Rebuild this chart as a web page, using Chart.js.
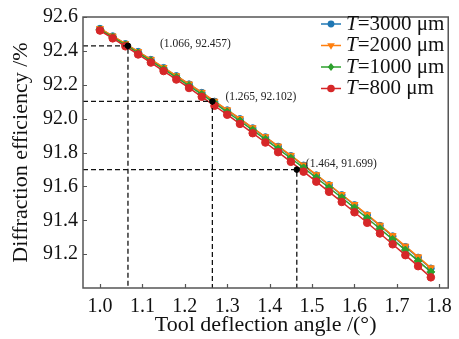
<!DOCTYPE html>
<html><head><meta charset="utf-8">
<script src="https://cdn.jsdelivr.net/npm/chart.js@4/dist/chart.umd.min.js"></script>
<style>html,body{margin:0;padding:0;background:#fff}canvas{display:block}</style>
</head><body>
<canvas id="c" width="459" height="339"></canvas>
<script>
// ---- data ----
const angles = [1.00,1.03,1.06,1.09,1.12,1.15,1.18,1.21,1.24,1.27,1.30,1.33,1.36,1.39,1.42,1.45,1.48,1.51,1.54,1.57,1.60,1.63,1.66,1.69,1.72,1.75,1.78];
const effT3000 = [92.531,92.487,92.441,92.395,92.348,92.300,92.252,92.203,92.153,92.101,92.050,91.998,91.944,91.891,91.835,91.780,91.724,91.666,91.608,91.549,91.490,91.430,91.368,91.306,91.243,91.180,91.116];
const effT2000 = [92.532,92.488,92.442,92.396,92.350,92.302,92.253,92.205,92.155,92.103,92.052,92.000,91.946,91.893,91.838,91.783,91.726,91.669,91.611,91.552,91.493,91.433,91.371,91.309,91.247,91.184,91.119];
const effT1000 = [92.526,92.481,92.435,92.388,92.341,92.292,92.243,92.194,92.143,92.091,92.039,91.986,91.932,91.878,91.822,91.766,91.709,91.651,91.592,91.533,91.473,91.412,91.350,91.287,91.224,91.160,91.095];
const effT800  = [92.520,92.474,92.427,92.379,92.331,92.281,92.231,92.181,92.129,92.076,92.023,91.969,91.914,91.859,91.802,91.745,91.687,91.628,91.568,91.508,91.447,91.385,91.322,91.258,91.194,91.129,91.063];
const thicknesses = ['3000','2000','1000','800'];
const xTicks = [1.0,1.1,1.2,1.3,1.4,1.5,1.6,1.7,1.8];
const yTicks = [91.2,91.4,91.6,91.8,92.0,92.2,92.4,92.6];
const markX = [1.066,1.265,1.464];
const markY = [92.43,92.102,91.699];
const markText = ['(1.066, 92.457)','(1.265, 92.102)','(1.464, 91.699)'];

// ---- styles ----
const X_MIN = 0.96, X_MAX = 1.821, Y_MIN = 91.0, Y_MAX = 92.6;
const colors = ['#1f77b4','#ff7f0e','#2ca02c','#d62728'];
const pStyles = ['circle','triangle','rectRot','circle'];
const pRot = [0,180,0,0];
const pRad = [3.4,4,4,3.8];
const serif = '"Liberation Serif","Times New Roman",serif';
const labelOffsets = [[32,-2],[13,-4],[9,-6]];

const seriesVals = [effT3000, effT2000, effT1000, effT800];
const datasets = seriesVals.map((vals,i)=>({
  type:'line',
  label:'T=' + thicknesses[i] + ' μm',
  data: angles.map((a,j)=>({x:a,y:vals[j]})),
  borderColor: colors[i], backgroundColor: colors[i],
  pointBackgroundColor: colors[i], pointBorderColor: colors[i],
  borderWidth: 1.5, pointRadius: pRad[i], pointBorderWidth: 1,
  pointStyle: pStyles[i], pointRotation: pRot[i],
  order: 4 - i
}));
markX.forEach((mx,k)=>{
  datasets.push({
    type:'line', label:'guide'+k,
    data:[{x:X_MIN,y:markY[k]},{x:mx,y:markY[k]},{x:mx,y:Y_MIN}],
    borderColor:'#111', borderWidth:1.3, borderDash:[5,3],
    pointRadius:0, order:0
  });
});
datasets.push({
  type:'line', label:'marks', showLine:false,
  data: markX.map((mx,k)=>({x:mx,y:markY[k]})),
  pointRadius:2.8, pointBackgroundColor:'#000', pointBorderColor:'#000', order:-1
});

function drawShape(ctx, k, x, y){
  const r = pRad[k];
  ctx.fillStyle = colors[k];
  ctx.beginPath();
  if (pStyles[k]==='circle'){ ctx.arc(x,y,r,0,Math.PI*2); }
  else if (pStyles[k]==='triangle'){
    ctx.moveTo(x - r*0.95, y - r*0.55); ctx.lineTo(x + r*0.95, y - r*0.55); ctx.lineTo(x, y + r*1.05);
  } else { ctx.moveTo(x,y-r); ctx.lineTo(x+r*0.8,y); ctx.lineTo(x,y+r); ctx.lineTo(x-r*0.8,y); }
  ctx.closePath(); ctx.fill();
}

const decor = {
  id:'decor',
  afterDraw(chart){
    const {ctx, chartArea:a, scales:{x,y}} = chart;
    ctx.save();
    // frame
    ctx.strokeStyle = '#555'; ctx.lineWidth = 1.5;
    ctx.strokeRect(a.left, a.top, a.right - a.left, a.bottom - a.top);
    // inward ticks
    ctx.beginPath();
    x.ticks.forEach(t=>{ const px = Math.round(x.getPixelForValue(t.value))+0.5; ctx.moveTo(px,a.bottom); ctx.lineTo(px,a.bottom-4); });
    y.ticks.forEach(t=>{ const py = Math.round(y.getPixelForValue(t.value))+0.5; ctx.moveTo(a.left,py); ctx.lineTo(a.left+4,py); });
    ctx.lineWidth = 1.2; ctx.stroke();
    // annotation texts
    ctx.fillStyle = '#222'; ctx.font = '11.5px ' + serif; ctx.textBaseline = 'middle'; ctx.textAlign = 'left';
    markText.forEach((t,k)=>{
      ctx.fillText(t, x.getPixelForValue(markX[k]) + labelOffsets[k][0], y.getPixelForValue(markY[k]) + labelOffsets[k][1]);
    });
    // legend
    const lx0 = 321, lx1 = 341, tx = 346, ty0 = 24, dy = 21.5;
    thicknesses.forEach((th,k)=>{
      const yy = ty0 + k*dy;
      ctx.strokeStyle = colors[k]; ctx.lineWidth = 1.5;
      ctx.beginPath(); ctx.moveTo(lx0,yy); ctx.lineTo(lx1,yy); ctx.stroke();
      drawShape(ctx,k,(lx0+lx1)/2,yy);
      ctx.fillStyle = '#111';
      ctx.font = 'italic 21px ' + serif;
      ctx.fillText('T', tx, yy);
      const w = ctx.measureText('T').width;
      ctx.font = '21px ' + serif;
      ctx.fillText('=' + th + ' μm', tx + w, yy);
    });
    ctx.restore();
  }
};

new Chart(document.getElementById('c'), {
  data:{ datasets },
  options:{
    responsive:false, animation:false, devicePixelRatio:1,
    layout:{ padding:{ left:0, right:7, top:13, bottom:0 } },
    plugins:{ legend:{ display:false }, tooltip:{ enabled:false } },
    scales:{
      x:{
        type:'linear', position:'bottom', min:X_MIN, max:X_MAX,
        afterBuildTicks(s){ s.ticks = xTicks.map(v=>({value:v})); },
        afterFit(s){ s.height = 51; },
        grid:{ display:false, drawTicks:false, tickLength:0 }, border:{ display:false },
        ticks:{ color:'#111', font:{ family:serif, size:20 }, padding:7, maxRotation:0, autoSkip:false,
          callback:v=>v.toFixed(1) },
        title:{ display:true, text:'Tool deflection angle /(°)', color:'#111',
          font:{ family:serif, size:22 }, padding:{ top:0, bottom:1 } }
      },
      y:{
        type:'linear', min:Y_MIN, max:Y_MAX,
        afterBuildTicks(s){ s.ticks = yTicks.map(v=>({value:v})); },
        afterFit(s){ s.width = 83; },
        grid:{ display:false, drawTicks:false, tickLength:0 }, border:{ display:false },
        ticks:{ color:'#111', font:{ family:serif, size:20 }, padding:5,
          callback:v=>v.toFixed(1) },
        title:{ display:true, text:'Diffraction efficiency /%', color:'#111',
          font:{ family:serif, size:22 }, padding:{ top:8, bottom:0 } }
      }
    }
  },
  plugins:[decor]
});
</script>
</body></html>
